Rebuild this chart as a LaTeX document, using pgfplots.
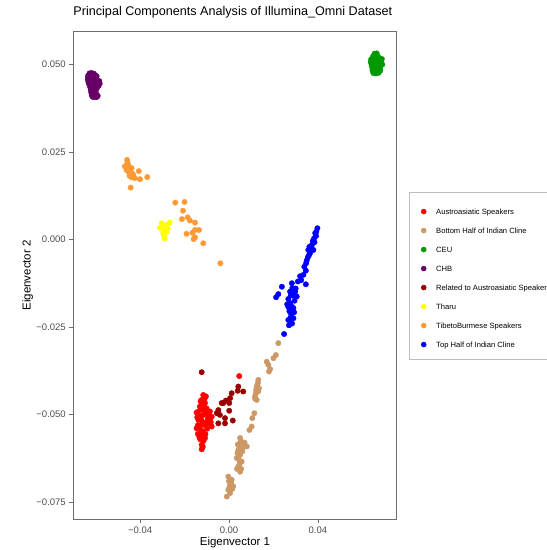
\documentclass[border=0pt]{standalone}
\usepackage{fontspec}
\setmainfont{Liberation Sans}
\usepackage{pgfplots}
\pgfplotsset{compat=1.18}

\definecolor{cAustro}{HTML}{FF0000}
\definecolor{cBottom}{HTML}{CC9966}
\definecolor{cCEU}{HTML}{009900}
\definecolor{cCHB}{HTML}{660066}
\definecolor{cRelated}{HTML}{990000}
\definecolor{cTharu}{HTML}{FFFF00}
\definecolor{cTibeto}{HTML}{FF9933}
\definecolor{cTop}{HTML}{0000FF}
\definecolor{framegray}{HTML}{6E6E6E}
\definecolor{tickgray}{HTML}{4D4D4D}
\definecolor{legendgray}{HTML}{BDBDBD}

\pgfplotsset{
  dot/.style={only marks, mark=*, color=#1, mark size=2.7pt,
    legend image code/.code={\draw[##1, mark size=2.5pt] plot coordinates {(0pt,-2pt)};}},
}

\begin{document}
\begin{tikzpicture}
\useasboundingbox (-73.3pt,-31pt) rectangle (473.7pt,519pt);
\clip (-73.3pt,-31pt) rectangle (473.7pt,519pt);
\begin{axis}[
  scale only axis, width=323.4pt, height=487.3pt,
  xmin=-0.0701, xmax=0.0755, ymin=-0.0798, ymax=0.0593,
  scaled ticks=false,
  axis line style={draw=framegray, line width=0.7pt},
  tick align=outside, major tick length=4pt,
  tick style={draw=framegray, line width=0.6pt},
  xtick pos=left, ytick pos=left,
  xtick={-0.04,0,0.04}, xticklabels={−0.04,0.00,0.04},
  ytick={-0.075,-0.05,-0.025,0,0.025,0.05},
  yticklabels={−0.075,−0.050,−0.025,0.000,0.025,0.050},
  ticklabel style={font=\fontsize{9.5}{11}\selectfont, text=tickgray},
  title={Principal Components Analysis of Illumina\_Omni Dataset},
  title style={at={(axis description cs:0,1.0209)}, anchor=base west, inner sep=0pt,
    font=\fontsize{12.6}{14}\selectfont},
  xlabel={Eigenvector 1},
  xlabel style={at={(axis description cs:0.5,-0.0534)}, anchor=base, inner sep=0pt,
    font=\fontsize{11.5}{13}\selectfont},
  ylabel={Eigenvector 2},
  ylabel style={at={(axis description cs:-0.1323,0.5)}, anchor=base, inner sep=0pt,
    font=\fontsize{11.5}{13}\selectfont},
  legend cell align=left,
  legend style={at={(axis description cs:1.038,0.6704)}, anchor=north west,
    draw=legendgray, line width=0.5pt, fill=white,
    font=\fontsize{7.6}{9}\selectfont,
    nodes={inner sep=0pt, text height=13.6pt, text depth=4.4pt},
    row sep=1pt, column sep=10pt, inner xsep=12pt, inner ysep=8pt},
]

% Austroasiatic Speakers
\addplot[dot=cAustro] coordinates {
(-0.0116,-0.0444) (-0.0123,-0.0458) (-0.0108,-0.0467) (-0.0131,-0.0477) (-0.0101,-0.0482)
(-0.0086,-0.0491) (-0.0146,-0.0494) (-0.0116,-0.0501) (-0.0078,-0.0506) (-0.0138,-0.0515)
(-0.0101,-0.0520) (-0.0078,-0.0534) (-0.0131,-0.0534) (-0.0146,-0.0539) (-0.0116,-0.0549)
(-0.0134,-0.0563) (-0.0108,-0.0567) (-0.0123,-0.0586) (-0.0123,-0.0599) (0.0046,-0.0390)
(-0.0112,-0.0470) (-0.0105,-0.0495) (-0.0095,-0.0510) (-0.0120,-0.0525) (-0.0090,-0.0525)
(-0.0125,-0.0545) (-0.0140,-0.0555) (-0.0115,-0.0575) (-0.0128,-0.0505) (-0.0110,-0.0455)
(-0.0098,-0.0540) (-0.0085,-0.0515) (-0.0135,-0.0490) (-0.0118,-0.0485)
(-0.0128,-0.0462) (-0.0104,-0.0448) (-0.0140,-0.0530) (-0.0093,-0.0500) (-0.0110,-0.0530)
(-0.0130,-0.0570) (-0.0120,-0.0560) (-0.0106,-0.0556) (-0.0118,-0.0592) (-0.0082,-0.0522)
(-0.0143,-0.0508) (-0.0125,-0.0515)
};
\addlegendentry{Austroasiatic Speakers}

% Bottom Half of Indian Cline
\addplot[dot=cBottom] coordinates {
(0.0222,-0.0296) (0.0211,-0.0330) (0.0200,-0.0339) (0.0170,-0.0349) (0.0177,-0.0358)
(0.0180,-0.0377) (0.0185,-0.0370) (0.0132,-0.0401) (0.0125,-0.0420) (0.0130,-0.0410)
(0.0135,-0.0425) (0.0132,-0.0434) (0.0120,-0.0440) (0.0117,-0.0449) (0.0125,-0.0458)
(0.0114,-0.0496) (0.0105,-0.0510) (0.0102,-0.0534) (0.0092,-0.0544) (0.0050,-0.0567)
(0.0053,-0.0575) (0.0057,-0.0582) (0.0080,-0.0591) (0.0045,-0.0590) (0.0042,-0.0601)
(0.0060,-0.0605) (0.0038,-0.0610) (0.0050,-0.0615) (0.0035,-0.0624) (0.0057,-0.0634)
(0.0048,-0.0640) (0.0042,-0.0648) (0.0050,-0.0663) (-0.0003,-0.0677) (0.0012,-0.0686)
(0.0000,-0.0690) (0.0010,-0.0695) (0.0005,-0.0701) (0.0019,-0.0705) (0.0015,-0.0712)
(-0.0003,-0.0715) (0.0005,-0.0724) (-0.0010,-0.0734)
(0.0062,-0.0595) (0.0046,-0.0630) (0.0055,-0.0655) (0.0040,-0.0585) (0.0070,-0.0580)
(0.0036,-0.0655) (0.0002,-0.0708) (0.0128,-0.0415) (0.0122,-0.0430) (0.0118,-0.0455)
};
\addlegendentry{Bottom Half of Indian Cline}

% CEU
\addplot[dot=cCEU] coordinates {
(0.0655,0.0530) (0.0665,0.0531)
(0.0648,0.0522) (0.0660,0.0523) (0.0672,0.0521)
(0.0640,0.0514) (0.0652,0.0515) (0.0664,0.0513) (0.0676,0.0514) (0.0688,0.0515)
(0.0638,0.0506) (0.0650,0.0507) (0.0662,0.0505) (0.0674,0.0506) (0.0686,0.0507)
(0.0642,0.0498) (0.0654,0.0499) (0.0666,0.0497) (0.0678,0.0498) (0.0690,0.0499)
(0.0645,0.0490) (0.0657,0.0491) (0.0669,0.0489) (0.0680,0.0490)
(0.0646,0.0482) (0.0658,0.0483) (0.0670,0.0481) (0.0681,0.0482)
(0.0650,0.0475) (0.0662,0.0474) (0.0674,0.0476)
};
\addlegendentry{CEU}

% CHB
\addplot[dot=cCHB] coordinates {
(-0.0628,0.0474) (-0.0618,0.0475) (-0.0608,0.0473)
(-0.0634,0.0468) (-0.0624,0.0469) (-0.0613,0.0467) (-0.0602,0.0468) (-0.0596,0.0466)
(-0.0636,0.0461) (-0.0626,0.0462) (-0.0616,0.0460) (-0.0606,0.0461) (-0.0597,0.0460)
(-0.0635,0.0454) (-0.0624,0.0455) (-0.0613,0.0453) (-0.0603,0.0454) (-0.0592,0.0453) (-0.0584,0.0452)
(-0.0632,0.0447) (-0.0621,0.0448) (-0.0610,0.0446) (-0.0600,0.0447) (-0.0590,0.0446) (-0.0582,0.0445)
(-0.0628,0.0440) (-0.0617,0.0441) (-0.0606,0.0439) (-0.0596,0.0440) (-0.0587,0.0439)
(-0.0624,0.0433) (-0.0613,0.0434) (-0.0603,0.0432) (-0.0594,0.0433)
(-0.0622,0.0426) (-0.0611,0.0427) (-0.0600,0.0425)
(-0.0620,0.0419) (-0.0609,0.0420) (-0.0599,0.0418)
(-0.0618,0.0412) (-0.0607,0.0413) (-0.0597,0.0411) (-0.0591,0.0410)
(-0.0614,0.0407) (-0.0603,0.0406) (-0.0594,0.0407)
};
\addlegendentry{CHB}

% Related to Austroasiatic Speakers
\addplot[dot=cRelated] coordinates {
(-0.0123,-0.0379) (0.0042,-0.0420) (0.0064,-0.0434) (0.0039,-0.0432) (0.0012,-0.0439)
(0.0005,-0.0453) (-0.0014,-0.0460) (-0.0026,-0.0467) (0.0001,-0.0467) (-0.0033,-0.0467)
(-0.0048,-0.0487) (-0.0055,-0.0496) (0.0001,-0.0489) (-0.0041,-0.0501) (-0.0018,-0.0510)
(-0.0048,-0.0525) (-0.0018,-0.0525) (0.0017,-0.0517)
};
\addlegendentry{Related to Austroasiatic Speakers}

% Tharu
\addplot[dot=cTharu] coordinates {
(-0.0303,0.0046) (-0.0267,0.0048) (-0.0311,0.0033) (-0.0289,0.0027) (-0.0276,0.0031)
(-0.0296,0.0018) (-0.0289,0.0003) (-0.0281,0.0022) (-0.0300,0.0030) (-0.0285,0.0040)
(-0.0292,0.0012)
};
\addlegendentry{Tharu}

% TibetoBurmese Speakers
\addplot[dot=cTibeto] coordinates {
(-0.0459,0.0227) (-0.0469,0.0208) (-0.0454,0.0213) (-0.0439,0.0204) (-0.0446,0.0189)
(-0.0431,0.0184) (-0.0406,0.0195) (-0.0401,0.0172) (-0.0368,0.0178) (-0.0443,0.0148)
(-0.0424,0.0175) (-0.0461,0.0198) (-0.0457,0.0220) (-0.0450,0.0200) (-0.0442,0.0192)
(-0.0435,0.0188) (-0.0462,0.0212) (-0.0455,0.0195) (-0.0448,0.0182) (-0.0440,0.0178)
(-0.0242,0.0105) (-0.0200,0.0107) (-0.0207,0.0082) (-0.0212,0.0058) (-0.0186,0.0063)
(-0.0176,0.0054) (-0.0153,0.0048) (-0.0135,0.0027) (-0.0153,0.0027) (-0.0165,0.0019)
(-0.0191,0.0016) (-0.0153,0.0006) (-0.0159,0.0001) (-0.0116,-0.0011) (-0.0039,-0.0068)
};
\addlegendentry{TibetoBurmese Speakers}

% Top Half of Indian Cline
\addplot[dot=cTop] coordinates {
(0.0398,0.0032) (0.0388,0.0018) (0.0383,0.0003) (0.0373,-0.0016) (0.0362,-0.0021)
(0.0380,-0.0030) (0.0365,-0.0039) (0.0355,-0.0051) (0.0347,-0.0068) (0.0339,-0.0078)
(0.0346,-0.0089) (0.0335,-0.0101) (0.0325,-0.0116) (0.0346,-0.0128) (0.0283,-0.0125)
(0.0285,-0.0139) (0.0275,-0.0149) (0.0298,-0.0149) (0.0238,-0.0135) (0.0222,-0.0156)
(0.0212,-0.0165) (0.0267,-0.0170) (0.0305,-0.0163) (0.0275,-0.0182) (0.0283,-0.0192)
(0.0290,-0.0196) (0.0267,-0.0193) (0.0267,-0.0230) (0.0270,-0.0245) (0.0248,-0.0270)
(0.0280,-0.0215) (0.0290,-0.0225) (0.0272,-0.0205) (0.0295,-0.0175) (0.0300,-0.0140)
(0.0310,-0.0120) (0.0320,-0.0105) (0.0350,-0.0060) (0.0370,-0.0025) (0.0385,-0.0008)
(0.0392,0.0010) (0.0360,-0.0045) (0.0278,-0.0160)
(0.0284,-0.0240) (0.0276,-0.0225) (0.0293,-0.0208) (0.0262,-0.0185) (0.0287,-0.0160)
(0.0357,-0.0030) (0.0377,-0.0005) (0.0393,0.0022)
};
\addlegendentry{Top Half of Indian Cline}

\end{axis}
\end{tikzpicture}
\end{document}
